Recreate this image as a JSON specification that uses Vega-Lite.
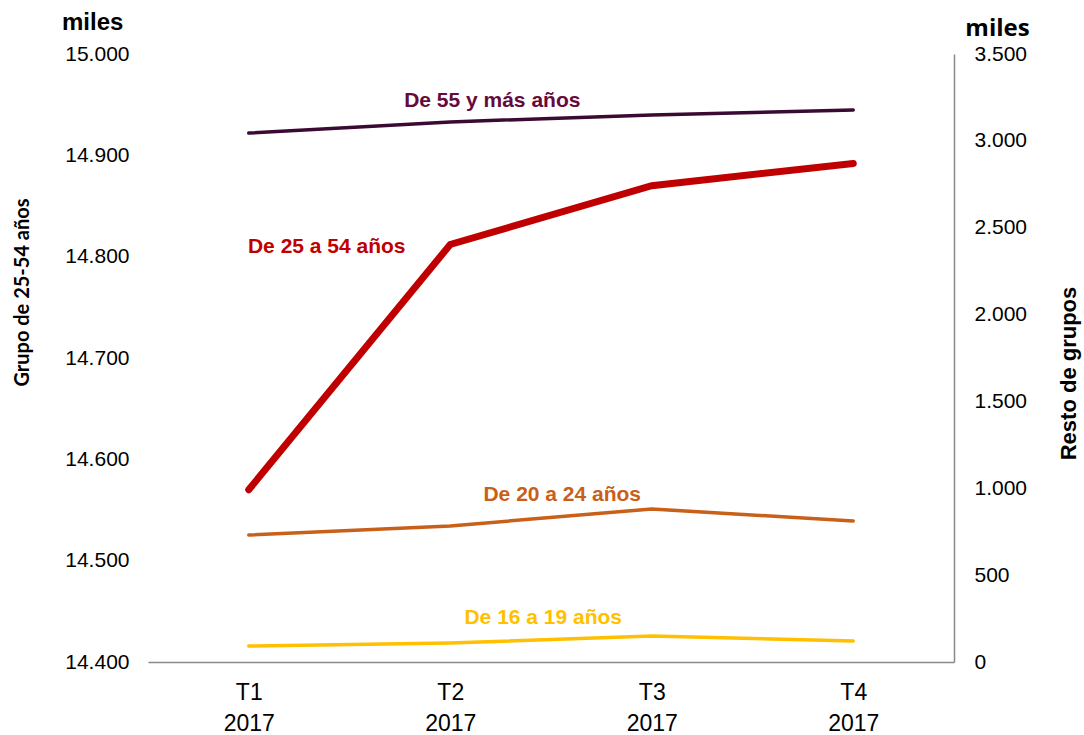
{
  "$schema": "https://vega.github.io/schema/vega-lite/v6.json",
  "width": 806,
  "height": 608,
  "autosize": "none",
  "padding": {"left": 148, "top": 54, "right": 130, "bottom": 73},
  "config": {
    "font": "Liberation Sans",
    "view": {"stroke": null},
    "axis": {"grid": false, "labelFont": "Liberation Sans", "labelColor": "#000000", "ticks": false},
    "locale": {"number": {"decimal": ",", "thousands": ".", "grouping": [3], "currency": ["", " €"]}}
  },
  "title": {
    "text": "miles",
    "anchor": "start",
    "frame": "group",
    "dx": -86,
    "dy": 25,
    "offset": 6,
    "font": "Liberation Sans",
    "fontSize": 24,
    "fontWeight": "bold",
    "color": "#000000"
  },
  "datasets": {
    "series": [
      {"periodo": "T1 2017", "serie": "De 25 a 54 años", "valor": 14570},
      {"periodo": "T2 2017", "serie": "De 25 a 54 años", "valor": 14812},
      {"periodo": "T3 2017", "serie": "De 25 a 54 años", "valor": 14870},
      {"periodo": "T4 2017", "serie": "De 25 a 54 años", "valor": 14892},
      {"periodo": "T1 2017", "serie": "De 55 y más años", "valor": 3045},
      {"periodo": "T2 2017", "serie": "De 55 y más años", "valor": 3109},
      {"periodo": "T3 2017", "serie": "De 55 y más años", "valor": 3149},
      {"periodo": "T4 2017", "serie": "De 55 y más años", "valor": 3178},
      {"periodo": "T1 2017", "serie": "De 20 a 24 años", "valor": 731},
      {"periodo": "T2 2017", "serie": "De 20 a 24 años", "valor": 783},
      {"periodo": "T3 2017", "serie": "De 20 a 24 años", "valor": 881},
      {"periodo": "T4 2017", "serie": "De 20 a 24 años", "valor": 812},
      {"periodo": "T1 2017", "serie": "De 16 a 19 años", "valor": 92},
      {"periodo": "T2 2017", "serie": "De 16 a 19 años", "valor": 109},
      {"periodo": "T3 2017", "serie": "De 16 a 19 años", "valor": 150},
      {"periodo": "T4 2017", "serie": "De 16 a 19 años", "valor": 121}
    ]
  },
  "layer": [
    {
      "layer": [
        {
          "data": {"name": "series"},
          "transform": [{"filter": "datum.serie === 'De 25 a 54 años'"}],
          "mark": {"type": "line", "color": "#C00000", "strokeWidth": 7, "strokeCap": "round", "strokeJoin": "miter"},
          "encoding": {
            "x": {
              "field": "periodo", "type": "ordinal",
              "sort": ["T1 2017", "T2 2017", "T3 2017", "T4 2017"],
              "scale": {"type": "point", "padding": 0.5},
              "axis": {
                "labelExpr": "split(datum.label, ' ')",
                "labelAngle": 0,
                "labelFontSize": 23,
                "labelLineHeight": 31,
                "labelPadding": 19,
                "domainColor": "#898989",
                "domainWidth": 1.5,
                "title": "miles",
                "titleX": 849,
                "titleY": -627,
                "titleAngle": 0,
                "titleAlign": "center",
                "titleBaseline": "alphabetic",
                "titleFont": "Open Sans",
                "titleFontSize": 24,
                "titleFontWeight": "bold",
                "titleColor": "#000000"
              }
            },
            "y": {
              "field": "valor", "type": "quantitative",
              "scale": {"domain": [14400, 15000], "zero": false, "nice": false},
              "axis": {
                "orient": "left",
                "values": [14400, 14500, 14600, 14700, 14800, 14900, 15000],
                "format": ",.0f",
                "labelFontSize": 21,
                "labelPadding": 19,
                "domain": false,
                "title": "Grupo de 25-54 años",
                "titleAngle": -90,
                "titleX": -126,
                "titleY": 238,
                "titleAlign": "center",
                "titleBaseline": "middle",
                "titleFont": "Lato",
                "titleFontSize": 20,
                "titleFontWeight": "bold",
                "titleColor": "#000000"
              }
            }
          }
        },
        {
          "data": {"values": [{"periodo": "T1 2017", "valor": 14810, "etiqueta": "De 25 a 54 años"}]},
          "mark": {"type": "text", "dx": 78, "font": "Liberation Sans", "fontSize": 21, "fontWeight": "bold", "color": "#C00000", "align": "center", "baseline": "middle"},
          "encoding": {
            "x": {"field": "periodo", "type": "ordinal", "sort": ["T1 2017", "T2 2017", "T3 2017", "T4 2017"]},
            "y": {"field": "valor", "type": "quantitative"},
            "text": {"field": "etiqueta"}
          }
        }
      ]
    },
    {
      "layer": [
        {
          "data": {"name": "series"},
          "transform": [{"filter": "datum.serie !== 'De 25 a 54 años'"}],
          "mark": {"type": "line", "strokeWidth": 3.5, "strokeCap": "round"},
          "encoding": {
            "x": {"field": "periodo", "type": "ordinal", "sort": ["T1 2017", "T2 2017", "T3 2017", "T4 2017"]},
            "y": {
              "field": "valor", "type": "quantitative",
              "scale": {"domain": [0, 3500], "nice": false},
              "axis": {
                "orient": "right",
                "values": [0, 500, 1000, 1500, 2000, 2500, 3000, 3500],
                "format": ",.0f",
                "labelFontSize": 21,
                "labelPadding": 20,
                "domain": true,
                "domainColor": "#898989",
                "domainWidth": 1.5,
                "title": "Resto de grupos",
                "titleAngle": -90,
                "titleX": 114,
                "titleY": 319,
                "titleAlign": "center",
                "titleBaseline": "middle",
                "titleFont": "Liberation Sans",
                "titleFontSize": 22,
                "titleFontWeight": "bold",
                "titleColor": "#000000"
              }
            },
            "color": {
              "field": "serie", "type": "nominal",
              "scale": {"domain": ["De 55 y más años", "De 20 a 24 años", "De 16 a 19 años"], "range": ["#3B0A32", "#C8601A", "#FFC000"]},
              "legend": null
            }
          }
        },
        {
          "data": {"values": [{"periodo": "T2 2017", "valor": 3230, "etiqueta": "De 55 y más años"}]},
          "mark": {"type": "text", "dx": 42, "font": "Liberation Sans", "fontSize": 21, "fontWeight": "bold", "color": "#660A3C", "align": "center", "baseline": "middle"},
          "encoding": {
            "x": {"field": "periodo", "type": "ordinal", "sort": ["T1 2017", "T2 2017", "T3 2017", "T4 2017"]},
            "y": {"field": "valor", "type": "quantitative"},
            "text": {"field": "etiqueta"}
          }
        },
        {
          "data": {"values": [{"periodo": "T2 2017", "valor": 961, "etiqueta": "De 20 a 24 años"}]},
          "mark": {"type": "text", "dx": 112, "font": "Liberation Sans", "fontSize": 21, "fontWeight": "bold", "color": "#C8601A", "align": "center", "baseline": "middle"},
          "encoding": {
            "x": {"field": "periodo", "type": "ordinal", "sort": ["T1 2017", "T2 2017", "T3 2017", "T4 2017"]},
            "y": {"field": "valor", "type": "quantitative"},
            "text": {"field": "etiqueta"}
          }
        },
        {
          "data": {"values": [{"periodo": "T2 2017", "valor": 253, "etiqueta": "De 16 a 19 años"}]},
          "mark": {"type": "text", "dx": 93, "font": "Liberation Sans", "fontSize": 21, "fontWeight": "bold", "color": "#FFC000", "align": "center", "baseline": "middle"},
          "encoding": {
            "x": {"field": "periodo", "type": "ordinal", "sort": ["T1 2017", "T2 2017", "T3 2017", "T4 2017"]},
            "y": {"field": "valor", "type": "quantitative"},
            "text": {"field": "etiqueta"}
          }
        }
      ]
    }
  ],
  "resolve": {"scale": {"y": "independent"}}
}
